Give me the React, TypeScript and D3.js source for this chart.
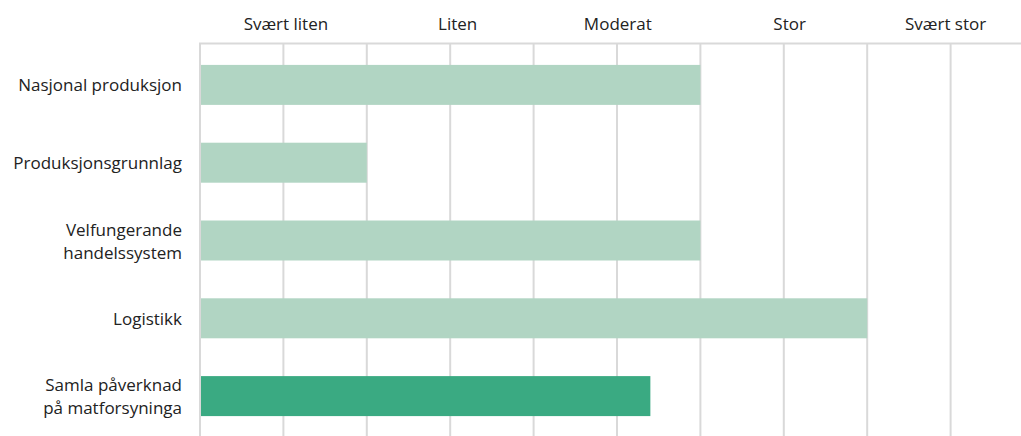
import React from "react";
import * as d3 from "d3";

const categories: string[][] = [
  ["Nasjonal produksjon"],
  ["Produksjonsgrunnlag"],
  ["Velfungerande", "handelssystem"],
  ["Logistikk"],
  ["Samla påverknad", "på matforsyninga"],
];
const values: number[] = [6, 2, 6, 8, 5.4];
const highlight: boolean[] = [false, false, false, false, true];
const levelLabels: string[] = ["Svært liten", "Liten", "Moderat", "Stor", "Svært stor"];
const levelPositions: number[] = [1.03, 3.09, 5.01, 7.07, 8.94];
const gridValues: number[] = [0, 1, 2, 3, 4, 5, 6, 7, 8, 9, 10];

const W = 1021;
const H = 436;
const FONT = "'Open Sans', sans-serif";

export default function App() {
  const x = d3.scaleLinear().domain([0, 10]).range([200, 1034]);
  const y = d3
    .scaleBand<number>()
    .domain(d3.range(categories.length))
    .range([46, 435])
    .paddingInner(0.486)
    .paddingOuter(0.243);
  const topY = 43.5;
  return (
    <svg
      width={W}
      height={H}
      style={{ position: "fixed", left: 0, top: 0, background: "#fff" }}
      fontFamily={FONT}
    >
      <rect width={W} height={H} fill="#fff" />
      {gridValues.map((g) => (
        <line
          key={g}
          x1={x(g)}
          x2={x(g)}
          y1={topY}
          y2={H}
          stroke="#d9d9d9"
          strokeWidth={2}
        />
      ))}
      <line x1={x(0) - 1} x2={W} y1={topY} y2={topY} stroke="#d9d9d9" strokeWidth={2} />
      {levelLabels.map((l, i) => (
        <text
          key={l}
          x={x(levelPositions[i])}
          y={23}
          textAnchor="middle"
          dominantBaseline="central"
          fontSize={17}
          fill="#222"
        >
          {l}
        </text>
      ))}
      {values.map((v, i) => (
        <rect
          key={i}
          x={x(0) + 1}
          y={y(i)!}
          width={x(v) - x(0) - 1}
          height={y.bandwidth()}
          fill={highlight[i] ? "#3aaa82" : "#b1d5c3"}
        />
      ))}
      {categories.map((lines, i) => {
        const cy = y(i)! + y.bandwidth() / 2;
        const lh = 23;
        const start = cy - ((lines.length - 1) * lh) / 2;
        return (
          <text key={i} textAnchor="end" fontSize={17} fill="#222">
            {lines.map((ln, j) => (
              <tspan key={j} x={182} y={start + j * lh} dominantBaseline="central">
                {ln}
              </tspan>
            ))}
          </text>
        );
      })}
    </svg>
  );
}
